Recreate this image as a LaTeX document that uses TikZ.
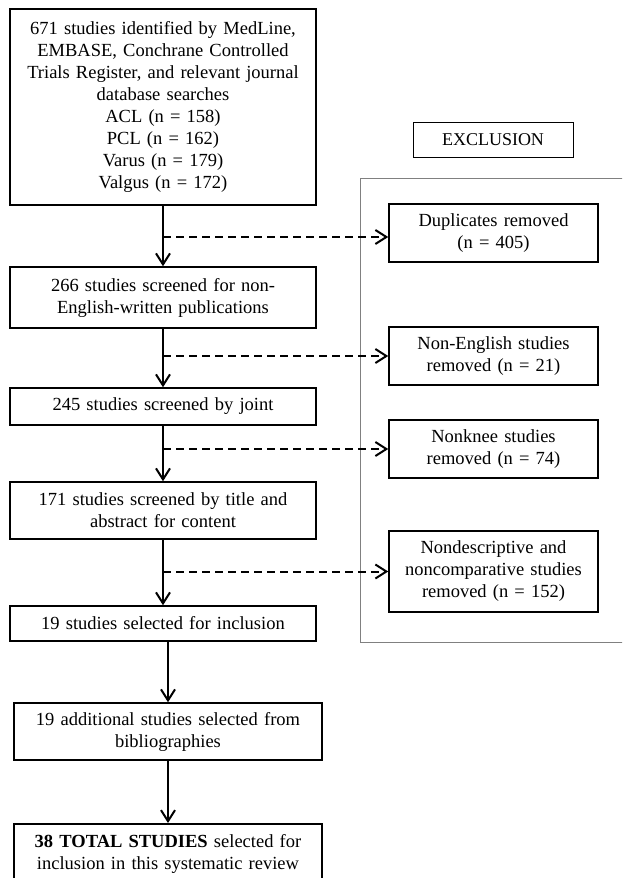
\documentclass[tikz,border=0pt]{standalone}
\usepackage{fontspec}
\setmainfont{Liberation Serif}
\usetikzlibrary{arrows.meta}

\begin{document}
\begin{tikzpicture}[x=1pt, y=-1pt,
        stage/.style={draw, line width=1.5pt, inner sep=0pt, text width=306pt, minimum height=#1, align=center, font=\fontsize{18.5}{22}\selectfont},
        excl/.style={draw, line width=1.5pt, inner sep=0pt, text width=209pt, minimum height=#1, align=center, font=\fontsize{18.5}{22}\selectfont},
        flow/.style={line width=2pt, -{Straight Barb[length=11pt, width=14pt, line width=2pt]}},
        drop/.style={flow, dash pattern=on 8pt off 5pt}]
        \clip (0,0) rectangle (622,878);
        \useasboundingbox (0,0) rectangle (622,878);

        % exclusion frame
        \draw [gray, line width=0.8pt] (360,178) rectangle (640,642);
        \node [draw, line width=1pt, minimum width=160pt, minimum height=35pt, inner sep=0pt, font=\fontsize{18}{22}\selectfont] (exclusion) at (493,139.5) {EXCLUSION};

        % main column
        \node [stage=196] (search) at (163,107) {671 studies identified by MedLine,\\ EMBASE, Conchrane Controlled\\ Trials Register, and relevant journal\\ database searches\\ ACL (n = 158)\\ PCL (n = 162)\\ Varus (n = 179)\\ Valgus (n = 172)};
        \node [stage=61] (english) at (163,297.5) {266 studies screened for non-\\ English-written publications};
        \node [stage=37] (joint) at (163,406.5) {245 studies screened by joint};
        \node [stage=57] (title) at (163,510.5) {171 studies screened by title and\\ abstract for content};
        \node [stage=35] (selected) at (163,623.5) {19 studies selected for inclusion};
        \node [stage=57, text width=308pt] (biblio) at (168,731.5) {19 additional studies selected from\\ bibliographies};
        \node [stage=60, text width=308pt, anchor=north] (total) at (168,823) {\textbf{38 TOTAL STUDIES} selected for\\ inclusion in this systematic review};

        % removed studies
        \node [excl=58] (dup) at (493.5,233) {Duplicates removed\\ (n = 405)};
        \node [excl=58] (noneng) at (493.5,356) {Non-English studies\\ removed (n = 21)};
        \node [excl=58] (nonknee) at (493.5,449) {Nonknee studies\\ removed (n = 74)};
        \node [excl=81] (nondesc) at (493.5,571.5) {Nondescriptive and\\ noncomparative studies\\ removed (n = 152)};
        \coordinate (dupin) at ([yshift=-4pt]dup.west);

        \draw [flow] (search) -- (english);
        \draw [flow] (english) -- (joint);
        \draw [flow] (joint) -- (title);
        \draw [flow] (title) -- (selected);
        \draw [flow] (selected.south -| biblio.north) -- (biblio);
        \draw [flow] (biblio) -- (total);

        \draw [drop] (search.south |- dupin) -- (dupin);
        \draw [drop] (search.south |- noneng.west) -- (noneng.west);
        \draw [drop] (search.south |- nonknee.west) -- (nonknee.west);
        \draw [drop] (search.south |- nondesc.west) -- (nondesc.west);
    \end{tikzpicture}
\end{document}
